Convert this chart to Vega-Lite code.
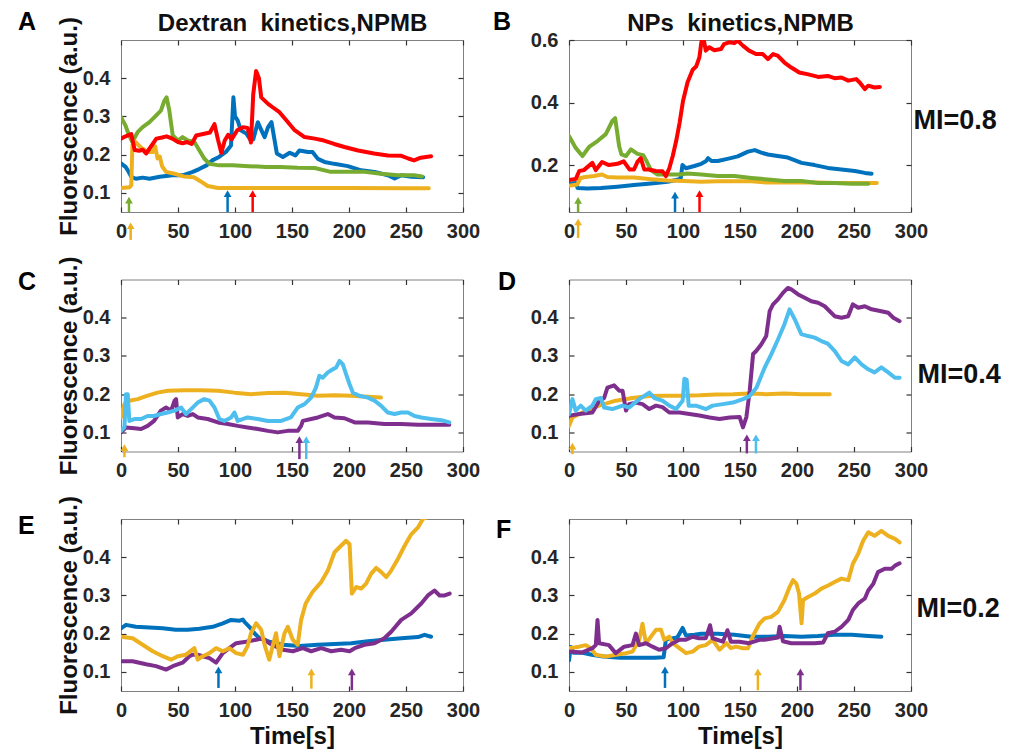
{
"$schema": "https://vega.github.io/schema/vega-lite/v6.json",
"padding": {"left": 17, "top": 9, "right": 5, "bottom": 5},
"background": "white",
"config": {
 "font": "Liberation Sans",
 "view": {"stroke": "#808080", "strokeWidth": 1},
 "axis": {"domain": false, "grid": false, "tickSize": -5, "tickColor": "#333333", "tickWidth": 1.2, "labelFont": "Liberation Sans", "labelFontSize": 20, "labelFontWeight": "bold", "labelColor": "#262626", "labelOverlap": false, "labelFlush": false, "titleFont": "Liberation Sans", "titleFontSize": 24, "titleFontWeight": "bold", "titleColor": "#111111"},
 "axisX": {"labelPadding": 14, "titlePadding": 4},
 "axisY": {"labelPadding": 16, "titlePadding": 1},
 "title": {"font": "Liberation Sans", "fontSize": 25, "fontWeight": "bold", "anchor": "start", "frame": "group", "color": "#000000", "offset": 0}
},
"datasets": {
"arrows": [
{"p":"A","s":"green","t":7,"y1":0.05,"y2":0.081},
{"p":"A","s":"yellow","t":8.5,"y1":-0.023,"y2":0.014},
{"p":"A","s":"blue","t":93.5,"y1":0.05,"y2":0.098},
{"p":"A","s":"red","t":115.5,"y1":0.05,"y2":0.098},
{"p":"B","s":"green","t":8,"y1":0.05,"y2":0.087},
{"p":"B","s":"yellow","t":8,"y1":-0.033,"y2":0.018},
{"p":"B","s":"blue","t":93,"y1":0.05,"y2":0.104},
{"p":"B","s":"red","t":114.5,"y1":0.05,"y2":0.109},
{"p":"C","s":"yellow","t":3,"y1":0.035,"y2":0.06},
{"p":"C","s":"purple","t":156.5,"y1":0.03,"y2":0.081},
{"p":"C","s":"cyan","t":162.5,"y1":0.03,"y2":0.081},
{"p":"D","s":"yellow","t":3,"y1":0.043,"y2":0.064},
{"p":"D","s":"purple","t":156,"y1":0.045,"y2":0.086},
{"p":"D","s":"cyan","t":164,"y1":0.045,"y2":0.086},
{"p":"E","s":"blue","t":85.5,"y1":0.058,"y2":0.105},
{"p":"E","s":"yellow","t":167,"y1":0.056,"y2":0.1},
{"p":"E","s":"purple","t":202.5,"y1":0.052,"y2":0.1},
{"p":"F","s":"blue","t":84.2,"y1":0.058,"y2":0.105},
{"p":"F","s":"yellow","t":165.7,"y1":0.052,"y2":0.1},
{"p":"F","s":"purple","t":203,"y1":0.052,"y2":0.1}
],
"lines": [
{"p":"A","s":"blue","t":0,"v":0.177},{"p":"A","s":"blue","t":4,"v":0.168},{"p":"A","s":"blue","t":6,"v":0.159},{"p":"A","s":"blue","t":9,"v":0.142},{"p":"A","s":"blue","t":13,"v":0.137},{"p":"A","s":"blue","t":19,"v":0.14},{"p":"A","s":"blue","t":25,"v":0.137},{"p":"A","s":"blue","t":34,"v":0.142},{"p":"A","s":"blue","t":45,"v":0.146},{"p":"A","s":"blue","t":54,"v":0.146},{"p":"A","s":"blue","t":63,"v":0.155},{"p":"A","s":"blue","t":69,"v":0.163},{"p":"A","s":"blue","t":75,"v":0.172},{"p":"A","s":"blue","t":80,"v":0.185},{"p":"A","s":"blue","t":86,"v":0.194},{"p":"A","s":"blue","t":92,"v":0.207},{"p":"A","s":"blue","t":96.5,"v":0.224},{"p":"A","s":"blue","t":98.6,"v":0.35},{"p":"A","s":"blue","t":100,"v":0.3},{"p":"A","s":"blue","t":102.4,"v":0.289},{"p":"A","s":"blue","t":105,"v":0.264},{"p":"A","s":"blue","t":110,"v":0.255},{"p":"A","s":"blue","t":113,"v":0.241},{"p":"A","s":"blue","t":116,"v":0.24},{"p":"A","s":"blue","t":120,"v":0.285},{"p":"A","s":"blue","t":123,"v":0.265},{"p":"A","s":"blue","t":126,"v":0.246},{"p":"A","s":"blue","t":129,"v":0.272},{"p":"A","s":"blue","t":132,"v":0.285},{"p":"A","s":"blue","t":134.6,"v":0.24},{"p":"A","s":"blue","t":136.7,"v":0.203},{"p":"A","s":"blue","t":142,"v":0.194},{"p":"A","s":"blue","t":148,"v":0.205},{"p":"A","s":"blue","t":153,"v":0.198},{"p":"A","s":"blue","t":156.5,"v":0.211},{"p":"A","s":"blue","t":164,"v":0.207},{"p":"A","s":"blue","t":168,"v":0.207},{"p":"A","s":"blue","t":172.7,"v":0.189},{"p":"A","s":"blue","t":178.5,"v":0.181},{"p":"A","s":"blue","t":187,"v":0.176},{"p":"A","s":"blue","t":199,"v":0.17},{"p":"A","s":"blue","t":210.7,"v":0.159},{"p":"A","s":"blue","t":222.4,"v":0.155},{"p":"A","s":"blue","t":234,"v":0.146},{"p":"A","s":"blue","t":240,"v":0.1375},{"p":"A","s":"blue","t":246,"v":0.146},{"p":"A","s":"blue","t":254.6,"v":0.142},{"p":"A","s":"blue","t":265,"v":0.141},
{"p":"A","s":"green","t":0,"v":0.298},{"p":"A","s":"green","t":4,"v":0.276},{"p":"A","s":"green","t":6,"v":0.259},{"p":"A","s":"green","t":10,"v":0.233},{"p":"A","s":"green","t":14.6,"v":0.259},{"p":"A","s":"green","t":19,"v":0.272},{"p":"A","s":"green","t":25,"v":0.285},{"p":"A","s":"green","t":30.7,"v":0.302},{"p":"A","s":"green","t":35,"v":0.315},{"p":"A","s":"green","t":38,"v":0.341},{"p":"A","s":"green","t":40,"v":0.35},{"p":"A","s":"green","t":42.4,"v":0.315},{"p":"A","s":"green","t":45.4,"v":0.25},{"p":"A","s":"green","t":50,"v":0.237},{"p":"A","s":"green","t":54,"v":0.246},{"p":"A","s":"green","t":58.5,"v":0.237},{"p":"A","s":"green","t":64.4,"v":0.233},{"p":"A","s":"green","t":68.8,"v":0.211},{"p":"A","s":"green","t":73,"v":0.19},{"p":"A","s":"green","t":77.6,"v":0.176},{"p":"A","s":"green","t":86,"v":0.172},{"p":"A","s":"green","t":98,"v":0.172},{"p":"A","s":"green","t":112,"v":0.17},{"p":"A","s":"green","t":127,"v":0.168},{"p":"A","s":"green","t":140,"v":0.168},{"p":"A","s":"green","t":155,"v":0.166},{"p":"A","s":"green","t":170,"v":0.165},{"p":"A","s":"green","t":184,"v":0.155},{"p":"A","s":"green","t":199,"v":0.155},{"p":"A","s":"green","t":214,"v":0.155},{"p":"A","s":"green","t":228,"v":0.15},{"p":"A","s":"green","t":243,"v":0.146},{"p":"A","s":"green","t":257,"v":0.146},{"p":"A","s":"green","t":264,"v":0.143},
{"p":"A","s":"yellow","t":0,"v":0.113},{"p":"A","s":"yellow","t":7.5,"v":0.115},{"p":"A","s":"yellow","t":9,"v":0.12},{"p":"A","s":"yellow","t":10,"v":0.225},{"p":"A","s":"yellow","t":12,"v":0.235},{"p":"A","s":"yellow","t":17,"v":0.22},{"p":"A","s":"yellow","t":23,"v":0.207},{"p":"A","s":"yellow","t":28,"v":0.207},{"p":"A","s":"yellow","t":30,"v":0.222},{"p":"A","s":"yellow","t":32,"v":0.19},{"p":"A","s":"yellow","t":34,"v":0.195},{"p":"A","s":"yellow","t":36,"v":0.17},{"p":"A","s":"yellow","t":39.5,"v":0.155},{"p":"A","s":"yellow","t":47,"v":0.15},{"p":"A","s":"yellow","t":55,"v":0.143},{"p":"A","s":"yellow","t":64,"v":0.141},{"p":"A","s":"yellow","t":70,"v":0.13},{"p":"A","s":"yellow","t":76,"v":0.118},{"p":"A","s":"yellow","t":85,"v":0.113},{"p":"A","s":"yellow","t":100,"v":0.113},{"p":"A","s":"yellow","t":150,"v":0.113},{"p":"A","s":"yellow","t":200,"v":0.113},{"p":"A","s":"yellow","t":250,"v":0.112},{"p":"A","s":"yellow","t":270,"v":0.112},
{"p":"A","s":"red","t":0,"v":0.242},{"p":"A","s":"red","t":4,"v":0.248},{"p":"A","s":"red","t":9,"v":0.254},{"p":"A","s":"red","t":12,"v":0.212},{"p":"A","s":"red","t":16,"v":0.21},{"p":"A","s":"red","t":19,"v":0.213},{"p":"A","s":"red","t":22,"v":0.203},{"p":"A","s":"red","t":26,"v":0.22},{"p":"A","s":"red","t":31,"v":0.242},{"p":"A","s":"red","t":36,"v":0.245},{"p":"A","s":"red","t":40,"v":0.248},{"p":"A","s":"red","t":45,"v":0.242},{"p":"A","s":"red","t":50,"v":0.233},{"p":"A","s":"red","t":54,"v":0.23},{"p":"A","s":"red","t":58,"v":0.233},{"p":"A","s":"red","t":62,"v":0.228},{"p":"A","s":"red","t":66,"v":0.25},{"p":"A","s":"red","t":72,"v":0.254},{"p":"A","s":"red","t":78,"v":0.258},{"p":"A","s":"red","t":82,"v":0.28},{"p":"A","s":"red","t":85,"v":0.24},{"p":"A","s":"red","t":88,"v":0.205},{"p":"A","s":"red","t":91,"v":0.237},{"p":"A","s":"red","t":94,"v":0.252},{"p":"A","s":"red","t":97,"v":0.24},{"p":"A","s":"red","t":102,"v":0.264},{"p":"A","s":"red","t":107,"v":0.272},{"p":"A","s":"red","t":111,"v":0.27},{"p":"A","s":"red","t":114,"v":0.232},{"p":"A","s":"red","t":116,"v":0.358},{"p":"A","s":"red","t":118.5,"v":0.419},{"p":"A","s":"red","t":121,"v":0.4},{"p":"A","s":"red","t":123,"v":0.35},{"p":"A","s":"red","t":129,"v":0.333},{"p":"A","s":"red","t":133,"v":0.324},{"p":"A","s":"red","t":139,"v":0.311},{"p":"A","s":"red","t":145,"v":0.29},{"p":"A","s":"red","t":152,"v":0.265},{"p":"A","s":"red","t":161,"v":0.246},{"p":"A","s":"red","t":170,"v":0.242},{"p":"A","s":"red","t":178,"v":0.237},{"p":"A","s":"red","t":187,"v":0.228},{"p":"A","s":"red","t":196,"v":0.22},{"p":"A","s":"red","t":208,"v":0.211},{"p":"A","s":"red","t":222,"v":0.203},{"p":"A","s":"red","t":234,"v":0.198},{"p":"A","s":"red","t":246,"v":0.197},{"p":"A","s":"red","t":252,"v":0.19},{"p":"A","s":"red","t":257,"v":0.185},{"p":"A","s":"red","t":263,"v":0.192},{"p":"A","s":"red","t":272,"v":0.196},
{"p":"B","s":"blue","t":0,"v":0.14},{"p":"B","s":"blue","t":6,"v":0.143},{"p":"B","s":"blue","t":7.5,"v":0.127},{"p":"B","s":"blue","t":16,"v":0.125},{"p":"B","s":"blue","t":28,"v":0.127},{"p":"B","s":"blue","t":42.5,"v":0.131},{"p":"B","s":"blue","t":57,"v":0.136},{"p":"B","s":"blue","t":72,"v":0.141},{"p":"B","s":"blue","t":86.5,"v":0.147},{"p":"B","s":"blue","t":95,"v":0.153},{"p":"B","s":"blue","t":98,"v":0.158},{"p":"B","s":"blue","t":99.5,"v":0.2},{"p":"B","s":"blue","t":102.6,"v":0.19},{"p":"B","s":"blue","t":110,"v":0.197},{"p":"B","s":"blue","t":116,"v":0.204},{"p":"B","s":"blue","t":120,"v":0.212},{"p":"B","s":"blue","t":122,"v":0.222},{"p":"B","s":"blue","t":125,"v":0.213},{"p":"B","s":"blue","t":130.5,"v":0.213},{"p":"B","s":"blue","t":139,"v":0.22},{"p":"B","s":"blue","t":148,"v":0.228},{"p":"B","s":"blue","t":157,"v":0.243},{"p":"B","s":"blue","t":163,"v":0.248},{"p":"B","s":"blue","t":168.6,"v":0.24},{"p":"B","s":"blue","t":174.5,"v":0.234},{"p":"B","s":"blue","t":183,"v":0.229},{"p":"B","s":"blue","t":192,"v":0.224},{"p":"B","s":"blue","t":204,"v":0.207},{"p":"B","s":"blue","t":215.5,"v":0.2},{"p":"B","s":"blue","t":227,"v":0.191},{"p":"B","s":"blue","t":239,"v":0.186},{"p":"B","s":"blue","t":250.7,"v":0.181},{"p":"B","s":"blue","t":259.5,"v":0.175},{"p":"B","s":"blue","t":265.4,"v":0.172},
{"p":"B","s":"yellow","t":0,"v":0.134},{"p":"B","s":"yellow","t":7.3,"v":0.138},{"p":"B","s":"yellow","t":10,"v":0.158},{"p":"B","s":"yellow","t":13,"v":0.161},{"p":"B","s":"yellow","t":22,"v":0.165},{"p":"B","s":"yellow","t":29,"v":0.17},{"p":"B","s":"yellow","t":33.7,"v":0.162},{"p":"B","s":"yellow","t":42.5,"v":0.16},{"p":"B","s":"yellow","t":57,"v":0.16},{"p":"B","s":"yellow","t":72,"v":0.155},{"p":"B","s":"yellow","t":86.5,"v":0.151},{"p":"B","s":"yellow","t":101,"v":0.149},{"p":"B","s":"yellow","t":116,"v":0.147},{"p":"B","s":"yellow","t":130.5,"v":0.148},{"p":"B","s":"yellow","t":145,"v":0.148},{"p":"B","s":"yellow","t":160,"v":0.148},{"p":"B","s":"yellow","t":174.5,"v":0.144},{"p":"B","s":"yellow","t":189,"v":0.144},{"p":"B","s":"yellow","t":204,"v":0.144},{"p":"B","s":"yellow","t":218.5,"v":0.144},{"p":"B","s":"yellow","t":233,"v":0.143},{"p":"B","s":"yellow","t":248,"v":0.143},{"p":"B","s":"yellow","t":270,"v":0.143},
{"p":"B","s":"green","t":0,"v":0.293},{"p":"B","s":"green","t":5.9,"v":0.255},{"p":"B","s":"green","t":11.8,"v":0.229},{"p":"B","s":"green","t":17.6,"v":0.258},{"p":"B","s":"green","t":25,"v":0.277},{"p":"B","s":"green","t":32.3,"v":0.299},{"p":"B","s":"green","t":38,"v":0.341},{"p":"B","s":"green","t":40.5,"v":0.35},{"p":"B","s":"green","t":44,"v":0.26},{"p":"B","s":"green","t":46,"v":0.234},{"p":"B","s":"green","t":50,"v":0.229},{"p":"B","s":"green","t":54.3,"v":0.25},{"p":"B","s":"green","t":60.1,"v":0.236},{"p":"B","s":"green","t":65,"v":0.232},{"p":"B","s":"green","t":68,"v":0.213},{"p":"B","s":"green","t":72,"v":0.183},{"p":"B","s":"green","t":77.7,"v":0.17},{"p":"B","s":"green","t":85,"v":0.17},{"p":"B","s":"green","t":96.8,"v":0.17},{"p":"B","s":"green","t":104,"v":0.173},{"p":"B","s":"green","t":116,"v":0.17},{"p":"B","s":"green","t":130.5,"v":0.165},{"p":"B","s":"green","t":145,"v":0.165},{"p":"B","s":"green","t":160,"v":0.159},{"p":"B","s":"green","t":174.5,"v":0.154},{"p":"B","s":"green","t":189,"v":0.149},{"p":"B","s":"green","t":204,"v":0.149},{"p":"B","s":"green","t":218.5,"v":0.143},{"p":"B","s":"green","t":233,"v":0.143},{"p":"B","s":"green","t":248,"v":0.14},{"p":"B","s":"green","t":262.5,"v":0.14},
{"p":"B","s":"red","t":0,"v":0.152},{"p":"B","s":"red","t":6,"v":0.156},{"p":"B","s":"red","t":9,"v":0.181},{"p":"B","s":"red","t":13,"v":0.184},{"p":"B","s":"red","t":20.5,"v":0.207},{"p":"B","s":"red","t":23.5,"v":0.184},{"p":"B","s":"red","t":29,"v":0.21},{"p":"B","s":"red","t":35,"v":0.2},{"p":"B","s":"red","t":42.5,"v":0.204},{"p":"B","s":"red","t":48,"v":0.212},{"p":"B","s":"red","t":53,"v":0.186},{"p":"B","s":"red","t":57,"v":0.186},{"p":"B","s":"red","t":60,"v":0.21},{"p":"B","s":"red","t":63,"v":0.222},{"p":"B","s":"red","t":66,"v":0.186},{"p":"B","s":"red","t":70,"v":0.186},{"p":"B","s":"red","t":76,"v":0.181},{"p":"B","s":"red","t":82,"v":0.18},{"p":"B","s":"red","t":85,"v":0.165},{"p":"B","s":"red","t":88,"v":0.19},{"p":"B","s":"red","t":91,"v":0.229},{"p":"B","s":"red","t":94,"v":0.277},{"p":"B","s":"red","t":97,"v":0.335},{"p":"B","s":"red","t":100,"v":0.405},{"p":"B","s":"red","t":104,"v":0.465},{"p":"B","s":"red","t":108.5,"v":0.505},{"p":"B","s":"red","t":111.5,"v":0.515},{"p":"B","s":"red","t":113,"v":0.53},{"p":"B","s":"red","t":114.4,"v":0.545},{"p":"B","s":"red","t":116,"v":0.59},{"p":"B","s":"red","t":117.5,"v":0.615},{"p":"B","s":"red","t":120,"v":0.566},{"p":"B","s":"red","t":123,"v":0.577},{"p":"B","s":"red","t":127.5,"v":0.567},{"p":"B","s":"red","t":133.4,"v":0.571},{"p":"B","s":"red","t":136,"v":0.587},{"p":"B","s":"red","t":141,"v":0.593},{"p":"B","s":"red","t":145,"v":0.59},{"p":"B","s":"red","t":148,"v":0.598},{"p":"B","s":"red","t":152.5,"v":0.582},{"p":"B","s":"red","t":158,"v":0.566},{"p":"B","s":"red","t":164,"v":0.555},{"p":"B","s":"red","t":170,"v":0.555},{"p":"B","s":"red","t":174.5,"v":0.539},{"p":"B","s":"red","t":179,"v":0.555},{"p":"B","s":"red","t":183,"v":0.55},{"p":"B","s":"red","t":189,"v":0.528},{"p":"B","s":"red","t":195,"v":0.512},{"p":"B","s":"red","t":202,"v":0.496},{"p":"B","s":"red","t":210,"v":0.49},{"p":"B","s":"red","t":218.5,"v":0.482},{"p":"B","s":"red","t":227,"v":0.485},{"p":"B","s":"red","t":233,"v":0.478},{"p":"B","s":"red","t":239,"v":0.48},{"p":"B","s":"red","t":245,"v":0.47},{"p":"B","s":"red","t":252,"v":0.475},{"p":"B","s":"red","t":255,"v":0.464},{"p":"B","s":"red","t":259.5,"v":0.443},{"p":"B","s":"red","t":262.5,"v":0.454},{"p":"B","s":"red","t":268,"v":0.448},{"p":"B","s":"red","t":272.7,"v":0.45},
{"p":"C","s":"yellow","t":0,"v":0.139},{"p":"C","s":"yellow","t":3,"v":0.174},{"p":"C","s":"yellow","t":7.3,"v":0.183},{"p":"C","s":"yellow","t":14.6,"v":0.187},{"p":"C","s":"yellow","t":23.4,"v":0.196},{"p":"C","s":"yellow","t":32,"v":0.204},{"p":"C","s":"yellow","t":41,"v":0.209},{"p":"C","s":"yellow","t":55.6,"v":0.21},{"p":"C","s":"yellow","t":70,"v":0.21},{"p":"C","s":"yellow","t":85,"v":0.209},{"p":"C","s":"yellow","t":99.5,"v":0.204},{"p":"C","s":"yellow","t":114,"v":0.2},{"p":"C","s":"yellow","t":128.8,"v":0.203},{"p":"C","s":"yellow","t":143.4,"v":0.204},{"p":"C","s":"yellow","t":158,"v":0.2},{"p":"C","s":"yellow","t":172.7,"v":0.196},{"p":"C","s":"yellow","t":187.3,"v":0.197},{"p":"C","s":"yellow","t":202,"v":0.196},{"p":"C","s":"yellow","t":216.6,"v":0.193},{"p":"C","s":"yellow","t":228,"v":0.191},
{"p":"C","s":"purple","t":0,"v":0.1},{"p":"C","s":"purple","t":4.4,"v":0.113},{"p":"C","s":"purple","t":11.7,"v":0.111},{"p":"C","s":"purple","t":17.6,"v":0.109},{"p":"C","s":"purple","t":23.4,"v":0.117},{"p":"C","s":"purple","t":29,"v":0.13},{"p":"C","s":"purple","t":35,"v":0.157},{"p":"C","s":"purple","t":39.5,"v":0.165},{"p":"C","s":"purple","t":44,"v":0.157},{"p":"C","s":"purple","t":47,"v":0.183},{"p":"C","s":"purple","t":48.3,"v":0.187},{"p":"C","s":"purple","t":49.8,"v":0.139},{"p":"C","s":"purple","t":54,"v":0.148},{"p":"C","s":"purple","t":58.5,"v":0.143},{"p":"C","s":"purple","t":63,"v":0.148},{"p":"C","s":"purple","t":67.3,"v":0.139},{"p":"C","s":"purple","t":76,"v":0.135},{"p":"C","s":"purple","t":85,"v":0.126},{"p":"C","s":"purple","t":93.6,"v":0.122},{"p":"C","s":"purple","t":102.4,"v":0.117},{"p":"C","s":"purple","t":111,"v":0.113},{"p":"C","s":"purple","t":120,"v":0.109},{"p":"C","s":"purple","t":128.8,"v":0.104},{"p":"C","s":"purple","t":137.5,"v":0.1},{"p":"C","s":"purple","t":146,"v":0.104},{"p":"C","s":"purple","t":155,"v":0.104},{"p":"C","s":"purple","t":158,"v":0.117},{"p":"C","s":"purple","t":159.5,"v":0.13},{"p":"C","s":"purple","t":166.8,"v":0.135},{"p":"C","s":"purple","t":172.7,"v":0.139},{"p":"C","s":"purple","t":181.4,"v":0.148},{"p":"C","s":"purple","t":187.3,"v":0.139},{"p":"C","s":"purple","t":196,"v":0.137},{"p":"C","s":"purple","t":205,"v":0.126},{"p":"C","s":"purple","t":216.6,"v":0.126},{"p":"C","s":"purple","t":231,"v":0.122},{"p":"C","s":"purple","t":245.8,"v":0.122},{"p":"C","s":"purple","t":260.5,"v":0.12},{"p":"C","s":"purple","t":275,"v":0.12},{"p":"C","s":"purple","t":288,"v":0.12},
{"p":"C","s":"cyan","t":0,"v":0.104},{"p":"C","s":"cyan","t":3,"v":0.113},{"p":"C","s":"cyan","t":4.4,"v":0.2},{"p":"C","s":"cyan","t":5.9,"v":0.2},{"p":"C","s":"cyan","t":7.3,"v":0.13},{"p":"C","s":"cyan","t":11.7,"v":0.135},{"p":"C","s":"cyan","t":17.6,"v":0.135},{"p":"C","s":"cyan","t":23.4,"v":0.143},{"p":"C","s":"cyan","t":29,"v":0.143},{"p":"C","s":"cyan","t":35,"v":0.148},{"p":"C","s":"cyan","t":41,"v":0.152},{"p":"C","s":"cyan","t":47,"v":0.157},{"p":"C","s":"cyan","t":52.7,"v":0.165},{"p":"C","s":"cyan","t":57,"v":0.148},{"p":"C","s":"cyan","t":61.5,"v":0.161},{"p":"C","s":"cyan","t":67.3,"v":0.178},{"p":"C","s":"cyan","t":73,"v":0.187},{"p":"C","s":"cyan","t":77.6,"v":0.183},{"p":"C","s":"cyan","t":82,"v":0.165},{"p":"C","s":"cyan","t":86.3,"v":0.135},{"p":"C","s":"cyan","t":90.7,"v":0.13},{"p":"C","s":"cyan","t":96.6,"v":0.139},{"p":"C","s":"cyan","t":99.5,"v":0.152},{"p":"C","s":"cyan","t":102.4,"v":0.13},{"p":"C","s":"cyan","t":111,"v":0.139},{"p":"C","s":"cyan","t":120,"v":0.135},{"p":"C","s":"cyan","t":128.8,"v":0.13},{"p":"C","s":"cyan","t":140.5,"v":0.13},{"p":"C","s":"cyan","t":149,"v":0.139},{"p":"C","s":"cyan","t":155,"v":0.165},{"p":"C","s":"cyan","t":161,"v":0.174},{"p":"C","s":"cyan","t":166.8,"v":0.191},{"p":"C","s":"cyan","t":171,"v":0.217},{"p":"C","s":"cyan","t":174,"v":0.248},{"p":"C","s":"cyan","t":177,"v":0.243},{"p":"C","s":"cyan","t":181.4,"v":0.257},{"p":"C","s":"cyan","t":185.8,"v":0.265},{"p":"C","s":"cyan","t":188.8,"v":0.27},{"p":"C","s":"cyan","t":191.7,"v":0.287},{"p":"C","s":"cyan","t":194.6,"v":0.278},{"p":"C","s":"cyan","t":197.5,"v":0.252},{"p":"C","s":"cyan","t":200.5,"v":0.226},{"p":"C","s":"cyan","t":203.4,"v":0.204},{"p":"C","s":"cyan","t":209,"v":0.196},{"p":"C","s":"cyan","t":216.6,"v":0.191},{"p":"C","s":"cyan","t":222.4,"v":0.183},{"p":"C","s":"cyan","t":228,"v":0.17},{"p":"C","s":"cyan","t":234,"v":0.152},{"p":"C","s":"cyan","t":240,"v":0.148},{"p":"C","s":"cyan","t":245.8,"v":0.152},{"p":"C","s":"cyan","t":251.7,"v":0.152},{"p":"C","s":"cyan","t":257.5,"v":0.143},{"p":"C","s":"cyan","t":263.4,"v":0.139},{"p":"C","s":"cyan","t":272,"v":0.135},{"p":"C","s":"cyan","t":281,"v":0.132},{"p":"C","s":"cyan","t":288,"v":0.126},
{"p":"D","s":"yellow","t":0,"v":0.117},{"p":"D","s":"yellow","t":3,"v":0.139},{"p":"D","s":"yellow","t":11.8,"v":0.152},{"p":"D","s":"yellow","t":26.4,"v":0.17},{"p":"D","s":"yellow","t":41,"v":0.183},{"p":"D","s":"yellow","t":55.7,"v":0.19},{"p":"D","s":"yellow","t":70.4,"v":0.195},{"p":"D","s":"yellow","t":85,"v":0.196},{"p":"D","s":"yellow","t":99.7,"v":0.196},{"p":"D","s":"yellow","t":114.4,"v":0.197},{"p":"D","s":"yellow","t":129,"v":0.199},{"p":"D","s":"yellow","t":143.8,"v":0.2},{"p":"D","s":"yellow","t":158.5,"v":0.202},{"p":"D","s":"yellow","t":173,"v":0.2},{"p":"D","s":"yellow","t":189,"v":0.202},{"p":"D","s":"yellow","t":204,"v":0.2},{"p":"D","s":"yellow","t":218.5,"v":0.2},{"p":"D","s":"yellow","t":228.7,"v":0.2},
{"p":"D","s":"purple","t":0,"v":0.1436},{"p":"D","s":"purple","t":8.8,"v":0.148},{"p":"D","s":"purple","t":20.5,"v":0.152},{"p":"D","s":"purple","t":26.4,"v":0.182},{"p":"D","s":"purple","t":30.8,"v":0.19},{"p":"D","s":"purple","t":33.7,"v":0.217},{"p":"D","s":"purple","t":39.6,"v":0.223},{"p":"D","s":"purple","t":44,"v":0.209},{"p":"D","s":"purple","t":47,"v":0.209},{"p":"D","s":"purple","t":50,"v":0.157},{"p":"D","s":"purple","t":52.8,"v":0.174},{"p":"D","s":"purple","t":58.7,"v":0.178},{"p":"D","s":"purple","t":64.5,"v":0.174},{"p":"D","s":"purple","t":70.4,"v":0.161},{"p":"D","s":"purple","t":76.3,"v":0.17},{"p":"D","s":"purple","t":82,"v":0.166},{"p":"D","s":"purple","t":88,"v":0.152},{"p":"D","s":"purple","t":96.8,"v":0.152},{"p":"D","s":"purple","t":105.6,"v":0.148},{"p":"D","s":"purple","t":114.4,"v":0.144},{"p":"D","s":"purple","t":123.3,"v":0.139},{"p":"D","s":"purple","t":132,"v":0.135},{"p":"D","s":"purple","t":141,"v":0.139},{"p":"D","s":"purple","t":149.7,"v":0.14},{"p":"D","s":"purple","t":152.6,"v":0.113},{"p":"D","s":"purple","t":155.6,"v":0.14},{"p":"D","s":"purple","t":158.5,"v":0.209},{"p":"D","s":"purple","t":161.5,"v":0.305},{"p":"D","s":"purple","t":164.2,"v":0.313},{"p":"D","s":"purple","t":168.6,"v":0.33},{"p":"D","s":"purple","t":173,"v":0.352},{"p":"D","s":"purple","t":176,"v":0.417},{"p":"D","s":"purple","t":179,"v":0.435},{"p":"D","s":"purple","t":183.3,"v":0.448},{"p":"D","s":"purple","t":187.7,"v":0.465},{"p":"D","s":"purple","t":192,"v":0.478},{"p":"D","s":"purple","t":195,"v":0.474},{"p":"D","s":"purple","t":201,"v":0.461},{"p":"D","s":"purple","t":206.7,"v":0.452},{"p":"D","s":"purple","t":212.6,"v":0.443},{"p":"D","s":"purple","t":218.5,"v":0.439},{"p":"D","s":"purple","t":224.3,"v":0.43},{"p":"D","s":"purple","t":228.7,"v":0.417},{"p":"D","s":"purple","t":233,"v":0.404},{"p":"D","s":"purple","t":239,"v":0.4},{"p":"D","s":"purple","t":244.9,"v":0.404},{"p":"D","s":"purple","t":249,"v":0.435},{"p":"D","s":"purple","t":253.7,"v":0.426},{"p":"D","s":"purple","t":259.5,"v":0.43},{"p":"D","s":"purple","t":265.4,"v":0.422},{"p":"D","s":"purple","t":274,"v":0.417},{"p":"D","s":"purple","t":280,"v":0.413},{"p":"D","s":"purple","t":284.5,"v":0.4},{"p":"D","s":"purple","t":290,"v":0.391},
{"p":"D","s":"cyan","t":0,"v":0.148},{"p":"D","s":"cyan","t":3,"v":0.187},{"p":"D","s":"cyan","t":5.9,"v":0.157},{"p":"D","s":"cyan","t":10.3,"v":0.17},{"p":"D","s":"cyan","t":14.7,"v":0.157},{"p":"D","s":"cyan","t":20.5,"v":0.17},{"p":"D","s":"cyan","t":23.5,"v":0.187},{"p":"D","s":"cyan","t":27.9,"v":0.19},{"p":"D","s":"cyan","t":30.8,"v":0.165},{"p":"D","s":"cyan","t":38,"v":0.161},{"p":"D","s":"cyan","t":47,"v":0.17},{"p":"D","s":"cyan","t":52.8,"v":0.165},{"p":"D","s":"cyan","t":61.6,"v":0.187},{"p":"D","s":"cyan","t":70.4,"v":0.204},{"p":"D","s":"cyan","t":74.8,"v":0.19},{"p":"D","s":"cyan","t":82,"v":0.183},{"p":"D","s":"cyan","t":88,"v":0.17},{"p":"D","s":"cyan","t":93.9,"v":0.161},{"p":"D","s":"cyan","t":99.7,"v":0.183},{"p":"D","s":"cyan","t":101.2,"v":0.24},{"p":"D","s":"cyan","t":103.2,"v":0.238},{"p":"D","s":"cyan","t":105,"v":0.17},{"p":"D","s":"cyan","t":111.4,"v":0.17},{"p":"D","s":"cyan","t":120.2,"v":0.161},{"p":"D","s":"cyan","t":126,"v":0.17},{"p":"D","s":"cyan","t":135,"v":0.174},{"p":"D","s":"cyan","t":143.8,"v":0.178},{"p":"D","s":"cyan","t":152.6,"v":0.187},{"p":"D","s":"cyan","t":158.5,"v":0.195},{"p":"D","s":"cyan","t":164.4,"v":0.217},{"p":"D","s":"cyan","t":171.7,"v":0.27},{"p":"D","s":"cyan","t":177.4,"v":0.304},{"p":"D","s":"cyan","t":183.3,"v":0.343},{"p":"D","s":"cyan","t":189,"v":0.383},{"p":"D","s":"cyan","t":193.5,"v":0.422},{"p":"D","s":"cyan","t":198,"v":0.396},{"p":"D","s":"cyan","t":203.8,"v":0.357},{"p":"D","s":"cyan","t":209.7,"v":0.352},{"p":"D","s":"cyan","t":215.5,"v":0.348},{"p":"D","s":"cyan","t":221.4,"v":0.339},{"p":"D","s":"cyan","t":227,"v":0.332},{"p":"D","s":"cyan","t":233,"v":0.313},{"p":"D","s":"cyan","t":239,"v":0.287},{"p":"D","s":"cyan","t":244.9,"v":0.278},{"p":"D","s":"cyan","t":250.7,"v":0.296},{"p":"D","s":"cyan","t":256.6,"v":0.278},{"p":"D","s":"cyan","t":262.5,"v":0.265},{"p":"D","s":"cyan","t":268,"v":0.257},{"p":"D","s":"cyan","t":274,"v":0.27},{"p":"D","s":"cyan","t":280,"v":0.257},{"p":"D","s":"cyan","t":285.9,"v":0.243},{"p":"D","s":"cyan","t":290,"v":0.243},
{"p":"E","s":"blue","t":0,"v":0.214},{"p":"E","s":"blue","t":4.4,"v":0.223},{"p":"E","s":"blue","t":13,"v":0.218},{"p":"E","s":"blue","t":24.9,"v":0.216},{"p":"E","s":"blue","t":36.6,"v":0.214},{"p":"E","s":"blue","t":48,"v":0.21},{"p":"E","s":"blue","t":58.5,"v":0.21},{"p":"E","s":"blue","t":68.8,"v":0.213},{"p":"E","s":"blue","t":80.5,"v":0.218},{"p":"E","s":"blue","t":89.3,"v":0.227},{"p":"E","s":"blue","t":96.6,"v":0.236},{"p":"E","s":"blue","t":104,"v":0.234},{"p":"E","s":"blue","t":106.8,"v":0.237},{"p":"E","s":"blue","t":108.3,"v":0.231},{"p":"E","s":"blue","t":112.6,"v":0.218},{"p":"E","s":"blue","t":117,"v":0.201},{"p":"E","s":"blue","t":121.5,"v":0.188},{"p":"E","s":"blue","t":130,"v":0.179},{"p":"E","s":"blue","t":142,"v":0.171},{"p":"E","s":"blue","t":156.5,"v":0.168},{"p":"E","s":"blue","t":172.7,"v":0.171},{"p":"E","s":"blue","t":187.3,"v":0.173},{"p":"E","s":"blue","t":202,"v":0.175},{"p":"E","s":"blue","t":216.6,"v":0.18},{"p":"E","s":"blue","t":231,"v":0.184},{"p":"E","s":"blue","t":245.8,"v":0.188},{"p":"E","s":"blue","t":260.5,"v":0.191},{"p":"E","s":"blue","t":266.3,"v":0.197},{"p":"E","s":"blue","t":272,"v":0.192},
{"p":"E","s":"purple","t":0,"v":0.128},{"p":"E","s":"purple","t":10.2,"v":0.128},{"p":"E","s":"purple","t":22,"v":0.12},{"p":"E","s":"purple","t":30.7,"v":0.115},{"p":"E","s":"purple","t":39.5,"v":0.106},{"p":"E","s":"purple","t":45.4,"v":0.115},{"p":"E","s":"purple","t":54,"v":0.124},{"p":"E","s":"purple","t":60,"v":0.141},{"p":"E","s":"purple","t":63,"v":0.145},{"p":"E","s":"purple","t":67.3,"v":0.145},{"p":"E","s":"purple","t":71.7,"v":0.141},{"p":"E","s":"purple","t":77.6,"v":0.136},{"p":"E","s":"purple","t":83.4,"v":0.124},{"p":"E","s":"purple","t":89.3,"v":0.149},{"p":"E","s":"purple","t":95,"v":0.162},{"p":"E","s":"purple","t":101,"v":0.175},{"p":"E","s":"purple","t":109.7,"v":0.179},{"p":"E","s":"purple","t":118.5,"v":0.184},{"p":"E","s":"purple","t":124.4,"v":0.188},{"p":"E","s":"purple","t":130,"v":0.175},{"p":"E","s":"purple","t":136,"v":0.166},{"p":"E","s":"purple","t":142,"v":0.158},{"p":"E","s":"purple","t":150.7,"v":0.154},{"p":"E","s":"purple","t":159.5,"v":0.162},{"p":"E","s":"purple","t":166.8,"v":0.154},{"p":"E","s":"purple","t":175.6,"v":0.162},{"p":"E","s":"purple","t":184.4,"v":0.154},{"p":"E","s":"purple","t":193,"v":0.158},{"p":"E","s":"purple","t":200.5,"v":0.154},{"p":"E","s":"purple","t":205,"v":0.162},{"p":"E","s":"purple","t":213.6,"v":0.171},{"p":"E","s":"purple","t":222.4,"v":0.175},{"p":"E","s":"purple","t":231,"v":0.188},{"p":"E","s":"purple","t":237,"v":0.205},{"p":"E","s":"purple","t":245.8,"v":0.236},{"p":"E","s":"purple","t":254.6,"v":0.253},{"p":"E","s":"purple","t":263.4,"v":0.279},{"p":"E","s":"purple","t":269.2,"v":0.3},{"p":"E","s":"purple","t":275,"v":0.313},{"p":"E","s":"purple","t":279.5,"v":0.3},{"p":"E","s":"purple","t":283.9,"v":0.3},{"p":"E","s":"purple","t":288.3,"v":0.305},
{"p":"E","s":"yellow","t":0,"v":0.192},{"p":"E","s":"yellow","t":10.2,"v":0.188},{"p":"E","s":"yellow","t":19,"v":0.171},{"p":"E","s":"yellow","t":27.8,"v":0.154},{"p":"E","s":"yellow","t":36.6,"v":0.141},{"p":"E","s":"yellow","t":43.9,"v":0.132},{"p":"E","s":"yellow","t":49.8,"v":0.141},{"p":"E","s":"yellow","t":57,"v":0.145},{"p":"E","s":"yellow","t":64.4,"v":0.162},{"p":"E","s":"yellow","t":67.3,"v":0.132},{"p":"E","s":"yellow","t":71.7,"v":0.141},{"p":"E","s":"yellow","t":77.6,"v":0.149},{"p":"E","s":"yellow","t":83.4,"v":0.162},{"p":"E","s":"yellow","t":89.3,"v":0.154},{"p":"E","s":"yellow","t":95,"v":0.162},{"p":"E","s":"yellow","t":101,"v":0.149},{"p":"E","s":"yellow","t":107,"v":0.145},{"p":"E","s":"yellow","t":111,"v":0.167},{"p":"E","s":"yellow","t":114,"v":0.201},{"p":"E","s":"yellow","t":118.5,"v":0.227},{"p":"E","s":"yellow","t":123,"v":0.21},{"p":"E","s":"yellow","t":126,"v":0.17},{"p":"E","s":"yellow","t":130,"v":0.132},{"p":"E","s":"yellow","t":133,"v":0.167},{"p":"E","s":"yellow","t":136,"v":0.201},{"p":"E","s":"yellow","t":139,"v":0.141},{"p":"E","s":"yellow","t":143.4,"v":0.201},{"p":"E","s":"yellow","t":146.3,"v":0.218},{"p":"E","s":"yellow","t":150.7,"v":0.184},{"p":"E","s":"yellow","t":155,"v":0.171},{"p":"E","s":"yellow","t":158,"v":0.236},{"p":"E","s":"yellow","t":162,"v":0.279},{"p":"E","s":"yellow","t":168,"v":0.309},{"p":"E","s":"yellow","t":175.6,"v":0.335},{"p":"E","s":"yellow","t":181.4,"v":0.365},{"p":"E","s":"yellow","t":187.3,"v":0.413},{"p":"E","s":"yellow","t":193,"v":0.43},{"p":"E","s":"yellow","t":197.5,"v":0.443},{"p":"E","s":"yellow","t":200.5,"v":0.434},{"p":"E","s":"yellow","t":202.5,"v":0.305},{"p":"E","s":"yellow","t":206.3,"v":0.322},{"p":"E","s":"yellow","t":210.7,"v":0.318},{"p":"E","s":"yellow","t":215,"v":0.331},{"p":"E","s":"yellow","t":219.5,"v":0.357},{"p":"E","s":"yellow","t":223.9,"v":0.372},{"p":"E","s":"yellow","t":228.3,"v":0.361},{"p":"E","s":"yellow","t":232.7,"v":0.348},{"p":"E","s":"yellow","t":237,"v":0.365},{"p":"E","s":"yellow","t":243,"v":0.396},{"p":"E","s":"yellow","t":248.8,"v":0.43},{"p":"E","s":"yellow","t":254.6,"v":0.46},{"p":"E","s":"yellow","t":260.5,"v":0.478},{"p":"E","s":"yellow","t":264.8,"v":0.5},{"p":"E","s":"yellow","t":269.2,"v":0.505},{"p":"E","s":"yellow","t":275,"v":0.53},
{"p":"F","s":"blue","t":0,"v":0.13},{"p":"F","s":"blue","t":1.5,"v":0.165},{"p":"F","s":"blue","t":4,"v":0.15},{"p":"F","s":"blue","t":12,"v":0.15},{"p":"F","s":"blue","t":20,"v":0.145},{"p":"F","s":"blue","t":30,"v":0.14},{"p":"F","s":"blue","t":45,"v":0.137},{"p":"F","s":"blue","t":60,"v":0.137},{"p":"F","s":"blue","t":75,"v":0.137},{"p":"F","s":"blue","t":83,"v":0.138},{"p":"F","s":"blue","t":85,"v":0.185},{"p":"F","s":"blue","t":95,"v":0.19},{"p":"F","s":"blue","t":99.7,"v":0.215},{"p":"F","s":"blue","t":102.6,"v":0.195},{"p":"F","s":"blue","t":110,"v":0.197},{"p":"F","s":"blue","t":116,"v":0.2},{"p":"F","s":"blue","t":130.5,"v":0.2},{"p":"F","s":"blue","t":145,"v":0.197},{"p":"F","s":"blue","t":160,"v":0.192},{"p":"F","s":"blue","t":174.5,"v":0.192},{"p":"F","s":"blue","t":189,"v":0.194},{"p":"F","s":"blue","t":204,"v":0.192},{"p":"F","s":"blue","t":218.5,"v":0.194},{"p":"F","s":"blue","t":233,"v":0.197},{"p":"F","s":"blue","t":248,"v":0.197},{"p":"F","s":"blue","t":262.5,"v":0.194},{"p":"F","s":"blue","t":274,"v":0.192},
{"p":"F","s":"yellow","t":0,"v":0.162},{"p":"F","s":"yellow","t":8.8,"v":0.166},{"p":"F","s":"yellow","t":14.7,"v":0.17},{"p":"F","s":"yellow","t":19,"v":0.162},{"p":"F","s":"yellow","t":23.5,"v":0.145},{"p":"F","s":"yellow","t":32.3,"v":0.14},{"p":"F","s":"yellow","t":41,"v":0.145},{"p":"F","s":"yellow","t":50,"v":0.149},{"p":"F","s":"yellow","t":55.7,"v":0.153},{"p":"F","s":"yellow","t":61.6,"v":0.184},{"p":"F","s":"yellow","t":64.5,"v":0.226},{"p":"F","s":"yellow","t":67.5,"v":0.175},{"p":"F","s":"yellow","t":71.8,"v":0.192},{"p":"F","s":"yellow","t":76.3,"v":0.21},{"p":"F","s":"yellow","t":80.7,"v":0.21},{"p":"F","s":"yellow","t":83.6,"v":0.184},{"p":"F","s":"yellow","t":88,"v":0.192},{"p":"F","s":"yellow","t":91,"v":0.175},{"p":"F","s":"yellow","t":96.8,"v":0.162},{"p":"F","s":"yellow","t":102.6,"v":0.149},{"p":"F","s":"yellow","t":108.5,"v":0.153},{"p":"F","s":"yellow","t":114,"v":0.166},{"p":"F","s":"yellow","t":120,"v":0.17},{"p":"F","s":"yellow","t":126,"v":0.184},{"p":"F","s":"yellow","t":132,"v":0.158},{"p":"F","s":"yellow","t":138,"v":0.175},{"p":"F","s":"yellow","t":142,"v":0.162},{"p":"F","s":"yellow","t":146.6,"v":0.166},{"p":"F","s":"yellow","t":152.5,"v":0.162},{"p":"F","s":"yellow","t":157,"v":0.162},{"p":"F","s":"yellow","t":161,"v":0.192},{"p":"F","s":"yellow","t":167,"v":0.226},{"p":"F","s":"yellow","t":171.6,"v":0.24},{"p":"F","s":"yellow","t":177.4,"v":0.244},{"p":"F","s":"yellow","t":183.3,"v":0.257},{"p":"F","s":"yellow","t":189,"v":0.288},{"p":"F","s":"yellow","t":193.5,"v":0.322},{"p":"F","s":"yellow","t":196.5,"v":0.34},{"p":"F","s":"yellow","t":199.4,"v":0.331},{"p":"F","s":"yellow","t":201.8,"v":0.305},{"p":"F","s":"yellow","t":204,"v":0.227},{"p":"F","s":"yellow","t":205.3,"v":0.288},{"p":"F","s":"yellow","t":209.7,"v":0.296},{"p":"F","s":"yellow","t":215.5,"v":0.305},{"p":"F","s":"yellow","t":221.4,"v":0.318},{"p":"F","s":"yellow","t":227.3,"v":0.326},{"p":"F","s":"yellow","t":233,"v":0.335},{"p":"F","s":"yellow","t":239,"v":0.344},{"p":"F","s":"yellow","t":245,"v":0.34},{"p":"F","s":"yellow","t":249,"v":0.383},{"p":"F","s":"yellow","t":253.7,"v":0.409},{"p":"F","s":"yellow","t":258,"v":0.443},{"p":"F","s":"yellow","t":262.5,"v":0.465},{"p":"F","s":"yellow","t":268,"v":0.456},{"p":"F","s":"yellow","t":274,"v":0.469},{"p":"F","s":"yellow","t":280,"v":0.456},{"p":"F","s":"yellow","t":286,"v":0.448},{"p":"F","s":"yellow","t":290,"v":0.439},
{"p":"F","s":"purple","t":0,"v":0.1535},{"p":"F","s":"purple","t":11.8,"v":0.151},{"p":"F","s":"purple","t":20.5,"v":0.162},{"p":"F","s":"purple","t":23.5,"v":0.17},{"p":"F","s":"purple","t":25,"v":0.236},{"p":"F","s":"purple","t":26.4,"v":0.175},{"p":"F","s":"purple","t":35,"v":0.17},{"p":"F","s":"purple","t":41,"v":0.149},{"p":"F","s":"purple","t":48.4,"v":0.166},{"p":"F","s":"purple","t":55.7,"v":0.17},{"p":"F","s":"purple","t":58.7,"v":0.2},{"p":"F","s":"purple","t":61.6,"v":0.17},{"p":"F","s":"purple","t":67.5,"v":0.175},{"p":"F","s":"purple","t":73.3,"v":0.166},{"p":"F","s":"purple","t":79,"v":0.158},{"p":"F","s":"purple","t":85,"v":0.162},{"p":"F","s":"purple","t":91,"v":0.175},{"p":"F","s":"purple","t":96.8,"v":0.184},{"p":"F","s":"purple","t":102.6,"v":0.184},{"p":"F","s":"purple","t":108.5,"v":0.192},{"p":"F","s":"purple","t":114,"v":0.188},{"p":"F","s":"purple","t":120,"v":0.188},{"p":"F","s":"purple","t":123.7,"v":0.222},{"p":"F","s":"purple","t":126,"v":0.188},{"p":"F","s":"purple","t":135,"v":0.179},{"p":"F","s":"purple","t":139,"v":0.209},{"p":"F","s":"purple","t":142,"v":0.179},{"p":"F","s":"purple","t":149.5,"v":0.179},{"p":"F","s":"purple","t":158,"v":0.175},{"p":"F","s":"purple","t":167,"v":0.184},{"p":"F","s":"purple","t":171.6,"v":0.184},{"p":"F","s":"purple","t":183.3,"v":0.19},{"p":"F","s":"purple","t":184.7,"v":0.218},{"p":"F","s":"purple","t":187.7,"v":0.18},{"p":"F","s":"purple","t":195,"v":0.175},{"p":"F","s":"purple","t":204,"v":0.175},{"p":"F","s":"purple","t":215.5,"v":0.175},{"p":"F","s":"purple","t":223,"v":0.177},{"p":"F","s":"purple","t":227,"v":0.201},{"p":"F","s":"purple","t":233,"v":0.205},{"p":"F","s":"purple","t":239,"v":0.218},{"p":"F","s":"purple","t":245,"v":0.236},{"p":"F","s":"purple","t":249,"v":0.262},{"p":"F","s":"purple","t":253.7,"v":0.279},{"p":"F","s":"purple","t":259.5,"v":0.292},{"p":"F","s":"purple","t":262.5,"v":0.313},{"p":"F","s":"purple","t":267,"v":0.331},{"p":"F","s":"purple","t":271,"v":0.361},{"p":"F","s":"purple","t":277,"v":0.37},{"p":"F","s":"purple","t":283,"v":0.37},{"p":"F","s":"purple","t":286,"v":0.378},{"p":"F","s":"purple","t":290,"v":0.384}
]
},
"columns": 2,
"bounds": "flush",
"spacing": {"row": 67.5, "column": 106},
"concat": [
{"width": 342, "height": 172, "title": {"text": "A", "dx": -103, "dy": 28},
 "resolve": {"axis": {"x": "independent", "y": "independent"}},
 "layer": [
  {"data": {"name": "lines"}, "transform": [{"filter": "datum.p === 'A'"}],
   "mark": {"type": "line", "strokeWidth": 4, "clip": true, "strokeJoin": "round", "strokeCap": "round"},
   "encoding": {
    "x": {"field": "t", "type": "quantitative", "scale": {"domain": [0, 300], "nice": false}, "axis": {"orient": "bottom", "values": [0,50,100,150,200,250,300], "title": null}},
    "y": {"field": "v", "type": "quantitative", "scale": {"domain": [0.05, 0.5], "nice": false}, "axis": {"orient": "left", "values": [0.1,0.2,0.3,0.4], "format": ".1f", "title": "Fluorescence (a.u.)"}},
    "color": {"field": "s", "type": "nominal", "scale": {"domain": ["blue","red","green","yellow","purple","cyan"], "range": ["#0072BD","#FF0000","#77AC30","#EDB120","#7E2F8E","#4DBEEE"]}, "legend": null}}},
  {"data": {"name": "arrows"}, "transform": [{"filter": "datum.p === 'A'"}],
   "mark": {"type": "rule", "strokeWidth": 2.5},
   "encoding": {
    "x": {"field": "t", "type": "quantitative", "scale": {"domain": [0, 300], "nice": false}, "axis": {"orient": "top", "values": [0,50,100,150,200,250,300], "labels": false, "title": "Dextran\u00a0 kinetics,NPMB", "titlePadding": 4}},
    "y": {"field": "y1", "type": "quantitative", "scale": {"domain": [0.05, 0.5], "nice": false}, "axis": {"orient": "right", "values": [0.1,0.2,0.3,0.4], "labels": false, "title": null}},
    "y2": {"field": "y2"},
    "color": {"field": "s", "type": "nominal", "scale": {"domain": ["blue","red","green","yellow","purple","cyan"], "range": ["#0072BD","#FF0000","#77AC30","#EDB120","#7E2F8E","#4DBEEE"]}, "legend": null}}},
  {"data": {"name": "arrows"}, "transform": [{"filter": "datum.p === 'A'"}],
   "mark": {"type": "point", "shape": "triangle-up", "filled": true, "size": 60, "opacity": 1},
   "encoding": {
    "x": {"field": "t", "type": "quantitative", "scale": {"domain": [0, 300], "nice": false}, "axis": null},
    "y": {"field": "y2", "type": "quantitative", "scale": {"domain": [0.05, 0.5], "nice": false}, "axis": null},
    "color": {"field": "s", "type": "nominal", "scale": {"domain": ["blue","red","green","yellow","purple","cyan"], "range": ["#0072BD","#FF0000","#77AC30","#EDB120","#7E2F8E","#4DBEEE"]}, "legend": null}}}
 ]},
{"width": 342, "height": 172, "title": {"text": "B", "dx": -76, "dy": 28},
 "resolve": {"axis": {"x": "independent", "y": "independent"}},
 "layer": [
  {"data": {"name": "lines"}, "transform": [{"filter": "datum.p === 'B'"}],
   "mark": {"type": "line", "strokeWidth": 4, "clip": true, "strokeJoin": "round", "strokeCap": "round"},
   "encoding": {
    "x": {"field": "t", "type": "quantitative", "scale": {"domain": [0, 300], "nice": false}, "axis": {"orient": "bottom", "values": [0,50,100,150,200,250,300], "title": null}},
    "y": {"field": "v", "type": "quantitative", "scale": {"domain": [0.05, 0.6], "nice": false}, "axis": {"orient": "left", "values": [0.2,0.4,0.6], "format": ".1f", "title": null}},
    "color": {"field": "s", "type": "nominal", "scale": {"domain": ["blue","red","green","yellow","purple","cyan"], "range": ["#0072BD","#FF0000","#77AC30","#EDB120","#7E2F8E","#4DBEEE"]}, "legend": null}}},
  {"data": {"name": "arrows"}, "transform": [{"filter": "datum.p === 'B'"}],
   "mark": {"type": "rule", "strokeWidth": 2.5},
   "encoding": {
    "x": {"field": "t", "type": "quantitative", "scale": {"domain": [0, 300], "nice": false}, "axis": {"orient": "top", "values": [0,50,100,150,200,250,300], "labels": false, "title": "NPs\u00a0 kinetics,NPMB", "titlePadding": 4}},
    "y": {"field": "y1", "type": "quantitative", "scale": {"domain": [0.05, 0.6], "nice": false}, "axis": {"orient": "right", "values": [0.2,0.4,0.6], "labels": false, "title": "MI=0.8", "titleAngle": 0, "titleAlign": "left", "titleBaseline": "middle", "titleFontSize": 27, "titleX": 2, "titleY": 80}},
    "y2": {"field": "y2"},
    "color": {"field": "s", "type": "nominal", "scale": {"domain": ["blue","red","green","yellow","purple","cyan"], "range": ["#0072BD","#FF0000","#77AC30","#EDB120","#7E2F8E","#4DBEEE"]}, "legend": null}}},
  {"data": {"name": "arrows"}, "transform": [{"filter": "datum.p === 'B'"}],
   "mark": {"type": "point", "shape": "triangle-up", "filled": true, "size": 60, "opacity": 1},
   "encoding": {
    "x": {"field": "t", "type": "quantitative", "scale": {"domain": [0, 300], "nice": false}, "axis": null},
    "y": {"field": "y2", "type": "quantitative", "scale": {"domain": [0.05, 0.6], "nice": false}, "axis": null},
    "color": {"field": "s", "type": "nominal", "scale": {"domain": ["blue","red","green","yellow","purple","cyan"], "range": ["#0072BD","#FF0000","#77AC30","#EDB120","#7E2F8E","#4DBEEE"]}, "legend": null}}}
 ]},
{"width": 342, "height": 172, "title": {"text": "C", "dx": -103, "dy": 43},
 "resolve": {"axis": {"x": "independent", "y": "independent"}},
 "layer": [
  {"data": {"name": "lines"}, "transform": [{"filter": "datum.p === 'C'"}],
   "mark": {"type": "line", "strokeWidth": 4, "clip": true, "strokeJoin": "round", "strokeCap": "round"},
   "encoding": {
    "x": {"field": "t", "type": "quantitative", "scale": {"domain": [0, 300], "nice": false}, "axis": {"orient": "bottom", "values": [0,50,100,150,200,250,300], "title": null}},
    "y": {"field": "v", "type": "quantitative", "scale": {"domain": [0.05, 0.5], "nice": false}, "axis": {"orient": "left", "values": [0.1,0.2,0.3,0.4], "format": ".1f", "title": "Fluorescence (a.u.)"}},
    "color": {"field": "s", "type": "nominal", "scale": {"domain": ["blue","red","green","yellow","purple","cyan"], "range": ["#0072BD","#FF0000","#77AC30","#EDB120","#7E2F8E","#4DBEEE"]}, "legend": null}}},
  {"data": {"name": "arrows"}, "transform": [{"filter": "datum.p === 'C'"}],
   "mark": {"type": "rule", "strokeWidth": 2.5},
   "encoding": {
    "x": {"field": "t", "type": "quantitative", "scale": {"domain": [0, 300], "nice": false}, "axis": {"orient": "top", "values": [0,50,100,150,200,250,300], "labels": false, "title": null}},
    "y": {"field": "y1", "type": "quantitative", "scale": {"domain": [0.05, 0.5], "nice": false}, "axis": {"orient": "right", "values": [0.1,0.2,0.3,0.4], "labels": false, "title": null}},
    "y2": {"field": "y2"},
    "color": {"field": "s", "type": "nominal", "scale": {"domain": ["blue","red","green","yellow","purple","cyan"], "range": ["#0072BD","#FF0000","#77AC30","#EDB120","#7E2F8E","#4DBEEE"]}, "legend": null}}},
  {"data": {"name": "arrows"}, "transform": [{"filter": "datum.p === 'C'"}],
   "mark": {"type": "point", "shape": "triangle-up", "filled": true, "size": 60, "opacity": 1},
   "encoding": {
    "x": {"field": "t", "type": "quantitative", "scale": {"domain": [0, 300], "nice": false}, "axis": null},
    "y": {"field": "y2", "type": "quantitative", "scale": {"domain": [0.05, 0.5], "nice": false}, "axis": null},
    "color": {"field": "s", "type": "nominal", "scale": {"domain": ["blue","red","green","yellow","purple","cyan"], "range": ["#0072BD","#FF0000","#77AC30","#EDB120","#7E2F8E","#4DBEEE"]}, "legend": null}}}
 ]},
{"width": 342, "height": 172, "title": {"text": "D", "dx": -71, "dy": 20},
 "resolve": {"axis": {"x": "independent", "y": "independent"}},
 "layer": [
  {"data": {"name": "lines"}, "transform": [{"filter": "datum.p === 'D'"}],
   "mark": {"type": "line", "strokeWidth": 4, "clip": true, "strokeJoin": "round", "strokeCap": "round"},
   "encoding": {
    "x": {"field": "t", "type": "quantitative", "scale": {"domain": [0, 300], "nice": false}, "axis": {"orient": "bottom", "values": [0,50,100,150,200,250,300], "title": null}},
    "y": {"field": "v", "type": "quantitative", "scale": {"domain": [0.05, 0.5], "nice": false}, "axis": {"orient": "left", "values": [0.1,0.2,0.3,0.4], "format": ".1f", "title": null}},
    "color": {"field": "s", "type": "nominal", "scale": {"domain": ["blue","red","green","yellow","purple","cyan"], "range": ["#0072BD","#FF0000","#77AC30","#EDB120","#7E2F8E","#4DBEEE"]}, "legend": null}}},
  {"data": {"name": "arrows"}, "transform": [{"filter": "datum.p === 'D'"}],
   "mark": {"type": "rule", "strokeWidth": 2.5},
   "encoding": {
    "x": {"field": "t", "type": "quantitative", "scale": {"domain": [0, 300], "nice": false}, "axis": {"orient": "top", "values": [0,50,100,150,200,250,300], "labels": false, "title": null}},
    "y": {"field": "y1", "type": "quantitative", "scale": {"domain": [0.05, 0.5], "nice": false}, "axis": {"orient": "right", "values": [0.1,0.2,0.3,0.4], "labels": false, "title": "MI=0.4", "titleAngle": 0, "titleAlign": "left", "titleBaseline": "middle", "titleFontSize": 27, "titleX": 6, "titleY": 95}},
    "y2": {"field": "y2"},
    "color": {"field": "s", "type": "nominal", "scale": {"domain": ["blue","red","green","yellow","purple","cyan"], "range": ["#0072BD","#FF0000","#77AC30","#EDB120","#7E2F8E","#4DBEEE"]}, "legend": null}}},
  {"data": {"name": "arrows"}, "transform": [{"filter": "datum.p === 'D'"}],
   "mark": {"type": "point", "shape": "triangle-up", "filled": true, "size": 60, "opacity": 1},
   "encoding": {
    "x": {"field": "t", "type": "quantitative", "scale": {"domain": [0, 300], "nice": false}, "axis": null},
    "y": {"field": "y2", "type": "quantitative", "scale": {"domain": [0.05, 0.5], "nice": false}, "axis": null},
    "color": {"field": "s", "type": "nominal", "scale": {"domain": ["blue","red","green","yellow","purple","cyan"], "range": ["#0072BD","#FF0000","#77AC30","#EDB120","#7E2F8E","#4DBEEE"]}, "legend": null}}}
 ]},
{"width": 342, "height": 172, "title": {"text": "E", "dx": -103, "dy": 47},
 "resolve": {"axis": {"x": "independent", "y": "independent"}},
 "layer": [
  {"data": {"name": "lines"}, "transform": [{"filter": "datum.p === 'E'"}],
   "mark": {"type": "line", "strokeWidth": 4, "clip": true, "strokeJoin": "round", "strokeCap": "round"},
   "encoding": {
    "x": {"field": "t", "type": "quantitative", "scale": {"domain": [0, 300], "nice": false}, "axis": {"orient": "bottom", "values": [0,50,100,150,200,250,300], "title": "Time[s]"}},
    "y": {"field": "v", "type": "quantitative", "scale": {"domain": [0.05, 0.5], "nice": false}, "axis": {"orient": "left", "values": [0.1,0.2,0.3,0.4], "format": ".1f", "title": "Fluorescence (a.u.)"}},
    "color": {"field": "s", "type": "nominal", "scale": {"domain": ["blue","red","green","yellow","purple","cyan"], "range": ["#0072BD","#FF0000","#77AC30","#EDB120","#7E2F8E","#4DBEEE"]}, "legend": null}}},
  {"data": {"name": "arrows"}, "transform": [{"filter": "datum.p === 'E'"}],
   "mark": {"type": "rule", "strokeWidth": 2.5},
   "encoding": {
    "x": {"field": "t", "type": "quantitative", "scale": {"domain": [0, 300], "nice": false}, "axis": {"orient": "top", "values": [0,50,100,150,200,250,300], "labels": false, "title": null}},
    "y": {"field": "y1", "type": "quantitative", "scale": {"domain": [0.05, 0.5], "nice": false}, "axis": {"orient": "right", "values": [0.1,0.2,0.3,0.4], "labels": false, "title": null}},
    "y2": {"field": "y2"},
    "color": {"field": "s", "type": "nominal", "scale": {"domain": ["blue","red","green","yellow","purple","cyan"], "range": ["#0072BD","#FF0000","#77AC30","#EDB120","#7E2F8E","#4DBEEE"]}, "legend": null}}},
  {"data": {"name": "arrows"}, "transform": [{"filter": "datum.p === 'E'"}],
   "mark": {"type": "point", "shape": "triangle-up", "filled": true, "size": 60, "opacity": 1},
   "encoding": {
    "x": {"field": "t", "type": "quantitative", "scale": {"domain": [0, 300], "nice": false}, "axis": null},
    "y": {"field": "y2", "type": "quantitative", "scale": {"domain": [0.05, 0.5], "nice": false}, "axis": null},
    "color": {"field": "s", "type": "nominal", "scale": {"domain": ["blue","red","green","yellow","purple","cyan"], "range": ["#0072BD","#FF0000","#77AC30","#EDB120","#7E2F8E","#4DBEEE"]}, "legend": null}}}
 ]},
{"width": 342, "height": 172, "title": {"text": "F", "dx": -73, "dy": 29},
 "resolve": {"axis": {"x": "independent", "y": "independent"}},
 "layer": [
  {"data": {"name": "lines"}, "transform": [{"filter": "datum.p === 'F'"}],
   "mark": {"type": "line", "strokeWidth": 4, "clip": true, "strokeJoin": "round", "strokeCap": "round"},
   "encoding": {
    "x": {"field": "t", "type": "quantitative", "scale": {"domain": [0, 300], "nice": false}, "axis": {"orient": "bottom", "values": [0,50,100,150,200,250,300], "title": "Time[s]"}},
    "y": {"field": "v", "type": "quantitative", "scale": {"domain": [0.05, 0.5], "nice": false}, "axis": {"orient": "left", "values": [0.1,0.2,0.3,0.4], "format": ".1f", "title": null}},
    "color": {"field": "s", "type": "nominal", "scale": {"domain": ["blue","red","green","yellow","purple","cyan"], "range": ["#0072BD","#FF0000","#77AC30","#EDB120","#7E2F8E","#4DBEEE"]}, "legend": null}}},
  {"data": {"name": "arrows"}, "transform": [{"filter": "datum.p === 'F'"}],
   "mark": {"type": "rule", "strokeWidth": 2.5},
   "encoding": {
    "x": {"field": "t", "type": "quantitative", "scale": {"domain": [0, 300], "nice": false}, "axis": {"orient": "top", "values": [0,50,100,150,200,250,300], "labels": false, "title": null}},
    "y": {"field": "y1", "type": "quantitative", "scale": {"domain": [0.05, 0.5], "nice": false}, "axis": {"orient": "right", "values": [0.1,0.2,0.3,0.4], "labels": false, "title": "MI=0.2", "titleAngle": 0, "titleAlign": "left", "titleBaseline": "middle", "titleFontSize": 27, "titleX": 5, "titleY": 89}},
    "y2": {"field": "y2"},
    "color": {"field": "s", "type": "nominal", "scale": {"domain": ["blue","red","green","yellow","purple","cyan"], "range": ["#0072BD","#FF0000","#77AC30","#EDB120","#7E2F8E","#4DBEEE"]}, "legend": null}}},
  {"data": {"name": "arrows"}, "transform": [{"filter": "datum.p === 'F'"}],
   "mark": {"type": "point", "shape": "triangle-up", "filled": true, "size": 60, "opacity": 1},
   "encoding": {
    "x": {"field": "t", "type": "quantitative", "scale": {"domain": [0, 300], "nice": false}, "axis": null},
    "y": {"field": "y2", "type": "quantitative", "scale": {"domain": [0.05, 0.5], "nice": false}, "axis": null},
    "color": {"field": "s", "type": "nominal", "scale": {"domain": ["blue","red","green","yellow","purple","cyan"], "range": ["#0072BD","#FF0000","#77AC30","#EDB120","#7E2F8E","#4DBEEE"]}, "legend": null}}}
 ]}
]
}
